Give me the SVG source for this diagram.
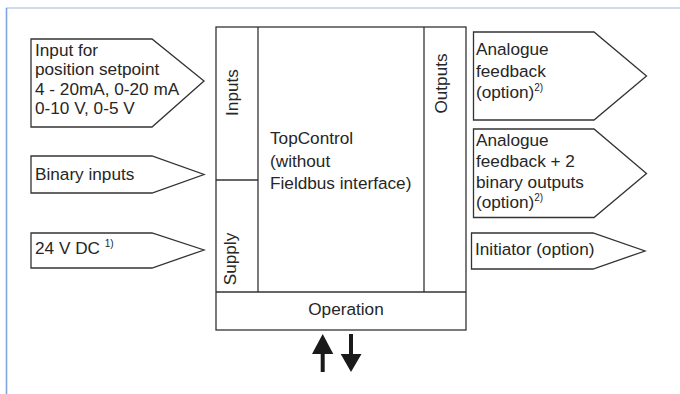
<svg xmlns="http://www.w3.org/2000/svg" width="680" height="394" viewBox="0 0 680 394">
<style>
.box{fill:#fff;stroke:#333;stroke-width:1.3}
.ln{stroke:#333;stroke-width:1.3;fill:none}
text{font-family:"Liberation Sans",Arial,sans-serif;font-size:17.2px;fill:#262626}
.sup{font-size:10px}
.ah{fill:#1a1a1a}
</style>
<rect width="680" height="394" fill="#fff"/>
<g id="frame">
<line x1="6" y1="8" x2="680" y2="8" stroke="#a4bad6" stroke-width="1.2"/>
<line x1="6.5" y1="8" x2="6.5" y2="394" stroke="#7fa6dc" stroke-width="1.6"/>
</g>
<g id="topcontrol">
<rect class="box" x="216" y="27" width="250" height="303"/>
<line class="ln" x1="258" y1="27" x2="258" y2="292"/>
<line class="ln" x1="424" y1="27" x2="424" y2="292"/>
<line class="ln" x1="216" y1="180" x2="258" y2="180"/>
<line class="ln" x1="216" y1="292" x2="466" y2="292"/>
<text x="270" y="144">TopControl</text>
<text x="270" y="166.5">(without</text>
<text x="270" y="188.5">Fieldbus interface)</text>
<text transform="translate(238,92.5) rotate(-90)" text-anchor="middle">Inputs</text>
<text transform="translate(236,259) rotate(-90)" text-anchor="middle">Supply</text>
<text transform="translate(446.5,83.5) rotate(-90)" text-anchor="middle">Outputs</text>
<text x="346" y="315" text-anchor="middle">Operation</text>
</g>
<g id="in-setpoint">
<polygon class="box" points="31,39 152,39 204,81 152,127 31,127"/>
<text x="35" y="55.5">Input for</text>
<text x="35" y="75">position setpoint</text>
<text x="35" y="94.5">4 - 20mA, 0-20 mA</text>
<text x="35" y="114">0-10 V, 0-5 V</text>
</g>
<g id="in-binary">
<polygon class="box" points="31,156 152,156 204,174.5 152,193 31,193"/>
<text x="35" y="179.5">Binary inputs</text>
</g>
<g id="in-supply">
<polygon class="box" points="31,233 152,233 204,250 152,268 31,268"/>
<text x="35" y="253.5">24 V DC <tspan class="sup" dy="-7">1)</tspan></text>
</g>
<g id="out-analogue">
<polygon class="box" points="473.5,32 594,32 646.5,76 594,120 473.5,120"/>
<text x="476" y="54.5">Analogue</text>
<text x="476" y="76.5">feedback</text>
<text x="476" y="98">(option)<tspan class="sup" dy="-7">2)</tspan></text>
</g>
<g id="out-analogue-binary">
<polygon class="box" points="473.5,129 594,129 646.5,173.5 594,217.5 473.5,217.5"/>
<text x="476" y="145.5">Analogue</text>
<text x="476" y="166.5">feedback + 2</text>
<text x="476" y="187.5">binary outputs</text>
<text x="476" y="208">(option)<tspan class="sup" dy="-7">2)</tspan></text>
</g>
<g id="out-initiator">
<polygon class="box" points="471.5,233 593,233 645,251 593,269 471.5,269"/>
<text x="475" y="255">Initiator (option)</text>
</g>
<g id="connectors">
<line x1="322.7" y1="372" x2="322.7" y2="352" stroke="#1a1a1a" stroke-width="4"/>
<polygon class="ah" points="322.7,334 333.3,354 312,354"/>
<line x1="351" y1="334" x2="351" y2="356" stroke="#1a1a1a" stroke-width="4"/>
<polygon class="ah" points="351,372 340.7,354 361.5,354"/>
</g>
</svg>
